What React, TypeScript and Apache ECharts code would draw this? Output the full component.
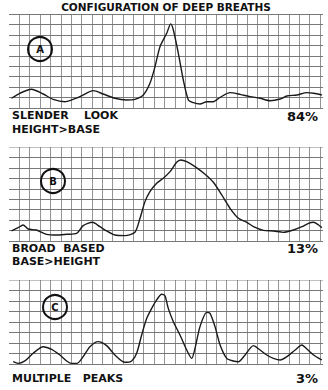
import React, { useEffect, useRef } from "react";
import * as echarts from "echarts";

const TITLE = "CONFIGURATION OF DEEP BREATHS";

// Panel A: slender look
const aX = [0.24, 1.04, 2.17, 3.3, 4.26, 5.39, 6.04, 6.84, 8.13, 9.09, 10.22, 11.35, 12.15, 12.96, 13.6, 14.09, 14.57, 15.22, 15.6, 15.86, 16.34, 16.82, 17.31, 17.79, 18.43, 19.08, 19.72, 20.37, 21.33, 22.3, 23.27, 24.23, 25.2, 26.17, 26.81, 27.78, 28.74, 29.39, 30.19];
const aY = [0.93, 1.41, 1.79, 1.34, 0.83, 0.6, 0.77, 1.09, 1.66, 1.34, 0.93, 0.77, 0.83, 1.25, 2.36, 3.96, 5.87, 7.15, 8.05, 7.47, 5.24, 2.68, 0.77, 0.51, 0.38, 0.6, 0.6, 1.02, 1.47, 1.31, 1.09, 0.93, 0.7, 0.86, 1.15, 1.25, 1.47, 1.41, 1.25];

// Panel B: broad based
const bX = [0.24, 0.88, 1.36, 1.85, 2.65, 3.62, 4.59, 5.56, 6.52, 7.16, 8.06, 8.77, 9.42, 10.22, 11.19, 12.15, 12.64, 13.12, 13.6, 14.25, 14.89, 15.54, 16.18, 16.57, 17.15, 17.95, 18.92, 19.72, 20.53, 21.33, 22.14, 22.95, 23.59, 24.55, 25.52, 26.48, 27.45, 28.26, 28.9, 29.39, 29.87, 30.19];
const bY = [0.96, 1.28, 1.53, 1.15, 1.05, 0.64, 0.57, 0.64, 0.73, 1.47, 1.79, 1.37, 0.96, 0.57, 0.51, 0.83, 2.17, 3.77, 4.73, 5.53, 6.01, 6.64, 7.54, 7.76, 7.6, 7.12, 6.39, 5.62, 4.41, 3.13, 2.17, 1.79, 1.37, 1.02, 0.96, 0.83, 1.05, 1.37, 1.69, 1.79, 1.53, 1.28];

// Panel C: multiple peaks
const cX = [0.4, 0.88, 1.53, 2.33, 3.3, 4.11, 4.91, 5.56, 6.04, 6.58, 7.16, 7.81, 8.61, 9.42, 10.22, 11.19, 11.84, 12.32, 12.8, 13.29, 13.77, 14.25, 14.73, 15.05, 15.37, 15.86, 16.5, 17.15, 17.63, 17.95, 18.43, 19.08, 19.4, 19.88, 20.37, 21.01, 21.65, 22.14, 22.78, 23.59, 24.23, 24.88, 25.52, 26.17, 26.81, 27.61, 28.26, 28.74, 29.39, 30.19];
const cY = [0.22, 0.06, 0.29, 1.02, 1.65, 1.4, 0.86, 0.29, 0.06, 0.06, 0.7, 1.65, 2.13, 1.75, 0.86, 0.16, 0.29, 1.02, 2.76, 4.35, 5.3, 6.1, 6.64, 6.5, 5.3, 4.03, 2.76, 1.33, 0.54, 1.49, 3.56, 4.92, 4.83, 3.56, 1.81, 0.54, 0.29, 0.22, 0.86, 1.75, 1.33, 0.86, 0.54, 0.38, 0.7, 1.33, 1.81, 1.43, 0.86, 0.38];

const panelLetters = ["A", "B", "C"];
const panelLabels1 = ["SLENDER    LOOK", "BROAD  BASED", "MULTIPLE   PEAKS"];
const panelLabels2 = ["HEIGHT>BASE", "BASE>HEIGHT", ""];
const panelPercents = ["84%", "13%", "3%"];

const panels = [
  { xs: aX, ys: aY, top: 14, height: 94, yMax: 9, circle: [40, 49], l1: 115.5, l2: 129, pct: 116 },
  { xs: bX, ys: bY, top: 147, height: 94, yMax: 9, circle: [53, 181], l1: 248, l2: 261.5, pct: 248 },
  { xs: cX, ys: cY, top: 280, height: 84, yMax: 8, circle: [55, 307], l1: 378, l2: 0, pct: 378 },
];

export default function App() {
  const ref = useRef<HTMLDivElement>(null);
  useEffect(() => {
    if (!ref.current) return;
    const chart = echarts.init(ref.current, null, { renderer: "svg" });
    const GL = 9;
    const GW = 314;
    const XMAX = 30.3;
    const grids = panels.map((p) => ({ left: GL, top: p.top, width: GW, height: p.height }));
    const xAxes = panels.map((p, i) => ({
      type: "value",
      gridIndex: i,
      min: 0,
      max: XMAX,
      interval: 1,
      axisLine: { show: false },
      axisTick: { show: false },
      axisLabel: { show: false },
      splitLine: { show: true, showMinLine: false, showMaxLine: false, lineStyle: { color: "#707070", width: 0.75 } },
    }));
    const yAxes = panels.map((p, i) => {
      const cols: string[] = [];
      for (let k = 0; k <= p.yMax; k++) cols.push(k === p.yMax && i > 0 ? "#b5b5b5" : "#606060");
      return {
        type: "value",
        gridIndex: i,
        min: 0,
        max: p.yMax,
        interval: 1,
        axisLine: { show: false },
        axisTick: { show: false },
        axisLabel: { show: false },
        splitLine: { show: true, lineStyle: { color: cols, width: 0.85 } },
      };
    });
    const series = panels.map((p, i) => ({
      type: "line",
      xAxisIndex: i,
      yAxisIndex: i,
      data: p.xs.map((x, k) => [x, p.ys[k]]),
      showSymbol: false,
      smooth: 0.25,
      lineStyle: { color: "#1a1a1a", width: 1.4 },
      z: 5,
    }));
    const txt = (x: number, y: number, text: string, font: string, align: string) => ({
      type: "text",
      x,
      y,
      z: 10,
      style: {
        text,
        font,
        fill: "#111",
        textAlign: align,
        textVerticalAlign: "middle",
        align,
        verticalAlign: "middle",
      },
    });
    const graphics: any[] = [txt(166, 7, TITLE, "bold 10.5px 'DejaVu Sans'", "center")];
    panels.forEach((p, i) => {
      graphics.push({
        type: "circle",
        shape: { cx: p.circle[0], cy: p.circle[1], r: 12 },
        style: { fill: "rgba(0,0,0,0)", stroke: "#111", lineWidth: 2 },
        z: 10,
      });
      graphics.push(txt(p.circle[0], p.circle[1], panelLetters[i], "bold 10px 'DejaVu Sans'", "center"));
      graphics.push(txt(12, p.l1, panelLabels1[i], "bold 11px 'DejaVu Sans'", "left"));
      if (panelLabels2[i]) {
        graphics.push(txt(12, p.l2, panelLabels2[i], "bold 11px 'DejaVu Sans'", "left"));
      }
      graphics.push(txt(318, p.pct, panelPercents[i], "bold 13px 'DejaVu Sans'", "right"));
    });
    chart.setOption({
      animation: false,
      backgroundColor: "#ffffff",
      grid: grids,
      xAxis: xAxes,
      yAxis: yAxes,
      series,
      graphic: graphics,
    });
    return () => chart.dispose();
  }, []);
  return (
    <div
      ref={ref}
      style={{ position: "fixed", left: 0, top: 0, width: 328, height: 390, background: "#fff" }}
    />
  );
}
